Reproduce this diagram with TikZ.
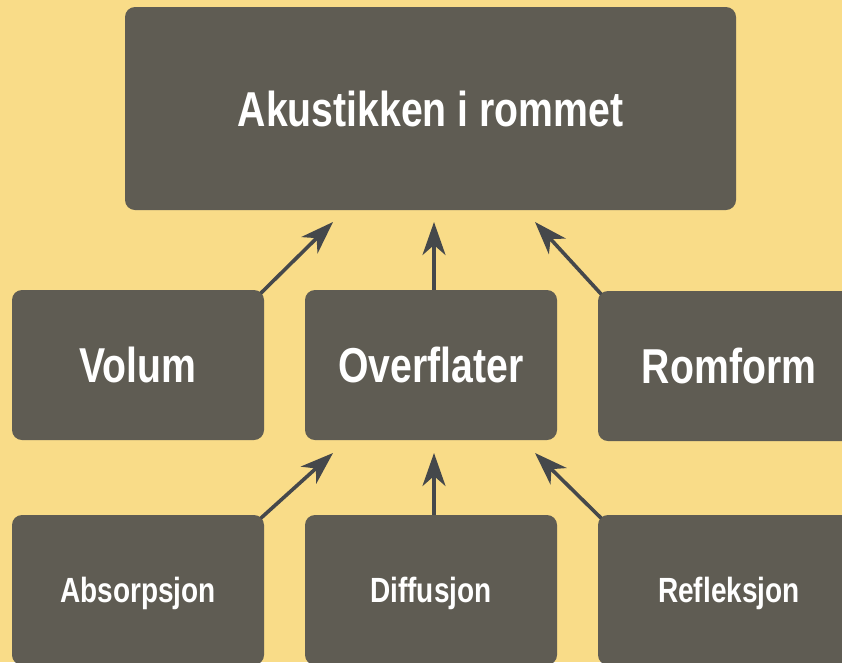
\documentclass[tikz,border=0pt]{standalone}
\usepackage{fontspec}
\setmainfont{Liberation Sans}
\newfontfamily\condfont[FakeStretch=0.8]{Liberation Sans}
\usetikzlibrary{arrows.meta,calc}
\definecolor{bgyellow}{HTML}{F9DC88}
\definecolor{boxgray}{HTML}{5F5C53}
\definecolor{arrgray}{HTML}{45484B}
\tikzset{
  box/.style={fill=boxgray, rounded corners=10pt, inner sep=0pt, text=white,
    font=\condfont\bfseries\fontsize{49}{55}\selectfont, text height=35pt, text depth=0pt},
  smallbox/.style={box, font=\condfont\bfseries\fontsize{35}{40}\selectfont, text height=25pt},
  arr/.style={draw=arrgray, line width=3.6pt, -{Stealth[length=33pt,width=23pt,inset=10pt]}}
}
\begin{document}
\begin{tikzpicture}[x=1pt,y=-1pt]
\useasboundingbox (0,0) rectangle (842,662);
\fill[bgyellow] (0,0) rectangle (842,662);
\begin{scope}
\clip (0,0) rectangle (842,662);
\node[box, minimum width=611pt, minimum height=203pt] (top) at (430.5,108.5) {Akustikken i rommet};
\node[box, minimum width=252pt, minimum height=150pt] (volum) at (138,365) {Volum};
\node[box, minimum width=252pt, minimum height=150pt] (over) at (431,365) {Overflater};
\node[box, minimum width=262pt, minimum height=150pt] (rom) at (729,366) {Romform};
\node[smallbox, minimum width=252pt, minimum height=150pt] (abs) at (138,590) {Absorpsjon};
\node[smallbox, minimum width=252pt, minimum height=150pt] (dif) at (431,590) {Diffusjon};
\node[smallbox, minimum width=262pt, minimum height=150pt] (ref) at (729,590) {Refleksjon};
\end{scope}
\coordinate (t1) at (333,222);
\coordinate (t2) at (434,222);
\coordinate (t3) at (535,222);
\coordinate (b1) at (333,453);
\coordinate (b2) at (434,453);
\coordinate (b3) at (535,453);
\draw[arr] ($(volum.north east)+(-3.5,3.5)$) -- (t1);
\draw[arr] (over.north -| t2) -- (t2);
\draw[arr] ($(rom.north west)+(3.5,3.5)$) -- (t3);
\draw[arr] ($(abs.north east)+(-3.5,3.5)$) -- (b1);
\draw[arr] (dif.north -| b2) -- (b2);
\draw[arr] ($(ref.north west)+(3.5,3.5)$) -- (b3);
\end{tikzpicture}
\end{document}
